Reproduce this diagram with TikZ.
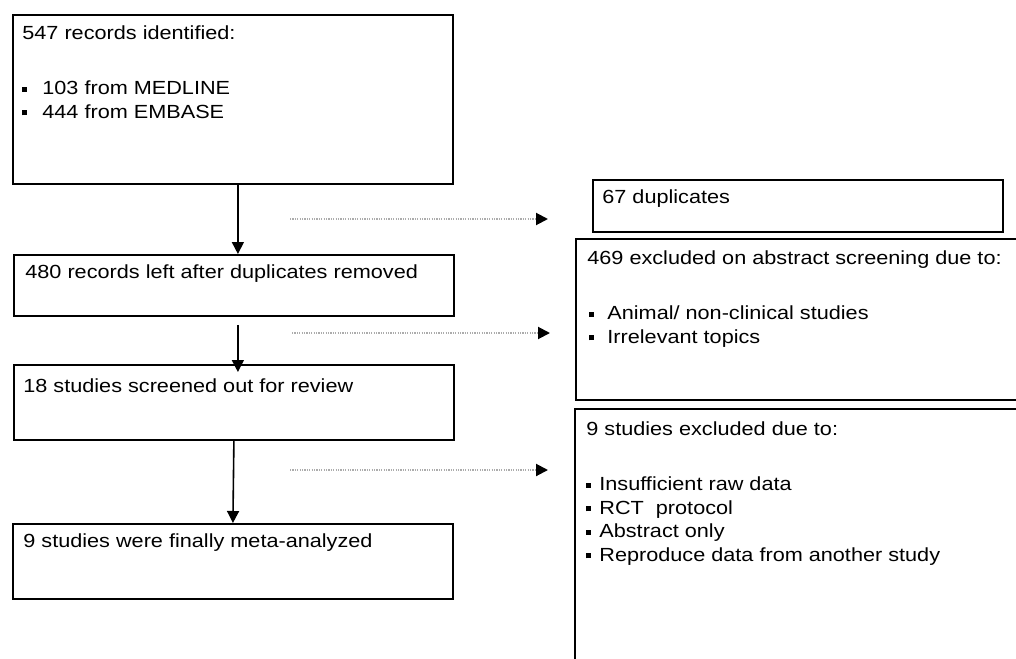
\documentclass[tikz,border=0pt]{standalone}
\usepackage{fontspec}
\setmainfont{Liberation Sans}[FakeStretch=1.14]
\usetikzlibrary{positioning,arrows.meta}
\newcommand{\sqbul}{\rule[1.4pt]{2.5pt}{2.6pt}}

\begin{document}
\begin{tikzpicture}[x=0.5pt, y=-0.5pt,
    font=\fontsize{9.5}{11.75}\selectfont,
    box/.style={draw, line width=0.9pt, anchor=north west, inner sep=0pt,
                minimum width=220pt},
    txt/.style={anchor=north west, align=left, inner sep=0pt},
    flow/.style={-{Triangle[length=6pt,width=6pt]}, line width=0.8pt},
    skip/.style={-{Triangle[length=6pt,width=6pt,color=black]}, line width=1pt,
                 gray!65, dash pattern=on 0.6pt off 0.6pt},
  ]
  \useasboundingbox (0,0) rectangle (1016,658);
  % left column: main flow
  \node[box, minimum height=84.5pt] (ident) at (12,14) {};
  \node[txt, below right=5.5pt and 5pt of ident.north west] (identtxt)
    {547 records identified:\\[16pt]
     \sqbul\hspace{7.5pt}103 from MEDLINE\\
     \sqbul\hspace{7.5pt}444 from EMBASE};
  \node[box, minimum height=30.5pt] (dedup) at (13,254) {};
  \node[txt, below right=5pt and 6pt of dedup.north west] (deduptxt)
    {480 records left after duplicates removed};
  \node[box, minimum height=37.5pt] (screen) at (13,364) {};
  \node[txt, below right=7pt and 5pt of screen.north west] (screentxt)
    {18 studies screened out for review};
  \node[box, minimum height=37.5pt] (final) at (12,523) {};
  \node[txt, below right=5pt and 5.5pt of final.north west] (finaltxt)
    {9 studies were finally meta-analyzed};
  % right column: what was dropped
  \node[box, minimum width=205pt, minimum height=26pt] (dup) at (592,179) {};
  \node[txt, below right=5pt and 5pt of dup.north west] (duptxt) {67 duplicates};
  \node[box, minimum width=222.5pt, minimum height=80.5pt] (abs) at (575,238) {};
  \node[txt, below right=6pt and 6pt of abs.north west] (abstxt)
    {469 excluded on abstract screening due to:\\[16pt]
     \hspace{1pt}\sqbul\hspace{6.5pt}Animal/ non-clinical studies\\
     \hspace{1pt}\sqbul\hspace{6.5pt}Irrelevant topics};
  \node[box, minimum width=223pt, minimum height=131pt] (excl) at (574,408) {};
  \node[txt, below right=6.5pt and 6pt of excl.north west] (excltxt)
    {9 studies excluded due to:\\[16pt]
     \sqbul\hspace{4pt}Insufficient raw data\\
     \sqbul\hspace{4pt}RCT\ \ protocol\\
     \sqbul\hspace{4pt}Abstract only\\
     \sqbul\hspace{4pt}Reproduce data from another study};
  % connectors
  \draw[flow] ([xshift=2.5pt]ident.south) -- ([xshift=2pt]dedup.north);
  \draw[flow, shorten <=4pt, shorten >=-4pt] ([xshift=2pt]dedup.south) -- ([xshift=2pt]screen.north);
  \draw[flow] (screen.south) -- (final.north);
  \coordinate (out1) at (290,219);
  \coordinate (in1) at (548,219);
  \coordinate (out2) at (292,333);
  \coordinate (in2) at (550,333);
  \coordinate (out3) at (290,470);
  \coordinate (in3) at (548,470);
  \draw[skip] (out1) -- (in1);
  \draw[skip] (out2) -- (in2);
  \draw[skip] (out3) -- (in3);
\end{tikzpicture}
\end{document}
